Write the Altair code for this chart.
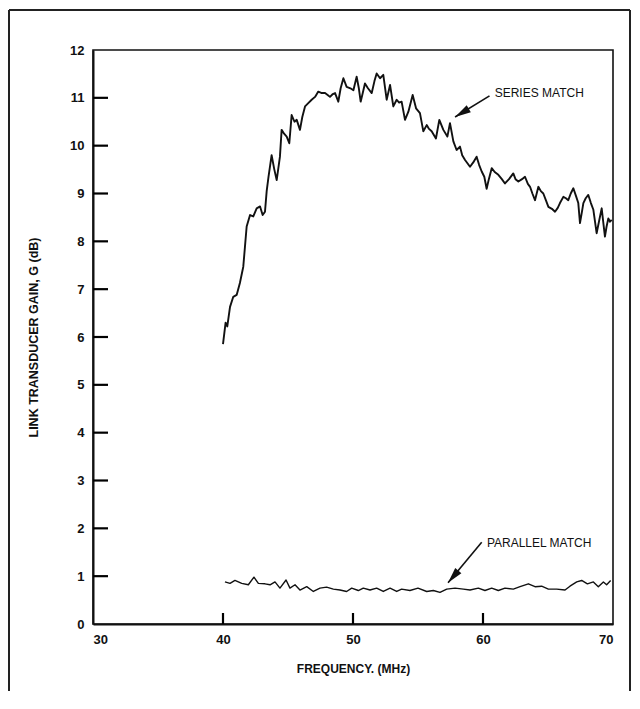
import altair as alt
import pandas as pd

# ---------------- data ----------------
series_freq = [40.0, 40.2, 40.33, 40.54, 40.79, 41.05, 41.3, 41.56, 41.69, 41.82, 42.08, 42.33,
               42.59, 42.85, 43.05, 43.23, 43.36, 43.5, 43.74, 43.95, 44.13, 44.38, 44.51, 44.7,
               44.9, 45.1, 45.28, 45.5, 45.67, 45.92, 46.1, 46.31, 46.56, 46.82, 47.08, 47.33,
               47.6, 47.85, 48.05, 48.23, 48.45, 48.62, 48.87, 49.05, 49.26, 49.51, 49.8, 50.03,
               50.28, 50.45, 50.59, 50.75, 50.92, 51.15, 51.44, 51.65, 51.82, 52.08, 52.33, 52.59,
               52.85, 53.1, 53.36, 53.55, 53.74, 54.0, 54.26, 54.59, 54.85, 55.15, 55.41, 55.67,
               55.85, 56.05, 56.38, 56.64, 56.95, 57.26, 57.46, 57.72, 57.97, 58.23, 58.4, 58.62,
               59.0, 59.25, 59.51, 59.7, 59.9, 60.1, 60.28, 60.45, 60.67, 60.9, 61.18, 61.45,
               61.69, 62.0, 62.33, 62.5, 62.72, 63.0, 63.23, 63.45, 63.62, 63.8, 64.0, 64.26,
               64.45, 64.64, 64.85, 65.03, 65.3, 65.54, 65.75, 65.92, 66.18, 66.38, 66.56, 66.75,
               66.95, 67.15, 67.33, 67.46, 67.6, 67.72, 67.9, 68.1, 68.3, 68.49, 68.74, 68.95,
               69.13, 69.25, 69.38, 69.5, 69.64, 69.77, 69.9]
series_gain = [5.85, 6.3, 6.22, 6.63, 6.84, 6.88, 7.13, 7.47, 7.89, 8.31, 8.55, 8.52,
               8.69, 8.73, 8.55, 8.62, 9.05, 9.35, 9.8, 9.5, 9.28, 9.77, 10.33, 10.25,
               10.19, 10.05, 10.64, 10.5, 10.54, 10.33, 10.6, 10.82, 10.89, 10.96, 11.02, 11.13,
               11.1, 11.1, 11.06, 11.02, 11.08, 11.1, 10.92, 11.2, 11.41, 11.23, 11.2, 11.16,
               11.44, 11.2, 10.92, 11.1, 11.3, 11.2, 11.1, 11.35, 11.51, 11.41, 11.48, 10.96,
               11.27, 10.82, 10.96, 10.9, 10.92, 10.54, 10.71, 11.06, 10.78, 10.68, 10.3, 10.43,
               10.35, 10.3, 10.15, 10.54, 10.33, 10.19, 10.47, 10.09, 9.91, 9.98, 9.8, 9.7,
               9.56, 9.65, 9.77, 9.6, 9.46, 9.35, 9.1, 9.3, 9.53, 9.45, 9.39, 9.3,
               9.21, 9.3, 9.42, 9.3, 9.25, 9.3, 9.35, 9.2, 9.14, 9.0, 8.86, 9.14,
               9.05, 9.0, 8.85, 8.72, 8.68, 8.62, 8.7, 8.8, 8.93, 8.9, 8.86, 9.0,
               9.11, 8.95, 8.8, 8.38, 8.6, 8.8, 8.9, 8.97, 8.8, 8.66, 8.17, 8.45,
               8.69, 8.4, 8.1, 8.3, 8.48, 8.41, 8.45]

parallel_freq = [40.15, 40.54, 40.92, 41.44, 41.95, 42.38, 42.72, 43.23, 43.62, 44.0, 44.38, 44.85,
                 45.15, 45.54, 45.92, 46.44, 46.95, 47.46, 47.97, 48.49, 49.0, 49.51, 49.9, 50.41,
                 50.79, 51.31, 51.82, 52.33, 52.85, 53.36, 53.74, 54.38, 55.0, 55.67, 56.18, 56.69,
                 57.21, 57.85, 58.49, 59.0, 59.64, 60.15, 60.67, 61.18, 61.69, 62.33, 62.85, 63.49,
                 64.0, 64.51, 65.03, 65.67, 66.31, 66.69, 67.21, 67.59, 68.03, 68.49, 68.87, 69.26,
                 69.51, 69.82]
parallel_gain = [0.88, 0.85, 0.91, 0.85, 0.82, 0.98, 0.85, 0.84, 0.82, 0.88, 0.75, 0.92,
                 0.75, 0.82, 0.71, 0.78, 0.68, 0.75, 0.77, 0.73, 0.71, 0.68, 0.75, 0.70,
                 0.75, 0.71, 0.75, 0.68, 0.75, 0.68, 0.73, 0.70, 0.75, 0.68, 0.70, 0.66,
                 0.73, 0.75, 0.73, 0.71, 0.75, 0.70, 0.75, 0.70, 0.75, 0.73, 0.78, 0.84,
                 0.78, 0.79, 0.73, 0.73, 0.71, 0.79, 0.88, 0.91, 0.84, 0.88, 0.78, 0.88,
                 0.82, 0.91]

x_label_values = [30, 40, 50, 60, 70]
y_label_values = [0, 1, 2, 3, 4, 5, 6, 7, 8, 9, 10, 11, 12]
x_inner_ticks = [40, 50, 60]
y_inner_ticks = [1, 2, 3, 4, 5, 6, 7, 8, 9, 10, 11]

labels_text = ["SERIES MATCH", "PARALLEL MATCH"]
labels_x = [60.9, 60.3]
labels_y = [11.1, 1.69]
arrow_tail_x = [60.5, 59.9]
arrow_tail_y = [11.04, 1.71]
arrow_tip_x = [57.85, 57.31]
arrow_tip_y = [10.6, 0.86]
arrow_angle = [239, 220]

# ---------------- chart ----------------
FONT = "Liberation Sans"
W, H = 520, 574

x_scale = alt.Scale(domain=[30, 70], nice=False, zero=False)
y_scale = alt.Scale(domain=[0, 12], nice=False)

x_axis = alt.Axis(
    values=x_label_values, title="FREQUENCY. (MHz)", tickSize=0, grid=False,
    labelFont=FONT, labelFontSize=13, labelFontWeight="bold", labelColor="#111",
    labelPadding=9, domainColor="#111", domainWidth=2,
    titleFont=FONT, titleFontSize=12, titleFontWeight="bold", titleColor="#111",
    titleX=W / 2, titleY=44, titleBaseline="middle", titleAlign="center")
y_axis = alt.Axis(
    values=y_label_values, title="LINK TRANSDUCER GAIN, G (dB)", tickSize=0, grid=False,
    labelFont=FONT, labelFontSize=13, labelFontWeight="bold", labelColor="#111",
    labelPadding=9, domainColor="#111", domainWidth=2,
    titleFont=FONT, titleFontSize=12.5, titleFontWeight="bold", titleColor="#111",
    titleX=-60, titleY=H / 2, titleAngle=270, titleBaseline="middle", titleAlign="center")


def X(field):
    return alt.X(field, type="quantitative", scale=x_scale, axis=x_axis)


def Y(field):
    return alt.Y(field, type="quantitative", scale=y_scale, axis=y_axis)


curves = pd.concat([
    pd.DataFrame({"f": series_freq, "g": series_gain, "s": "series"}),
    pd.DataFrame({"f": parallel_freq, "g": parallel_gain, "s": "parallel"}),
])

lines = alt.Chart(curves).mark_line(color="#111", strokeJoin="round").encode(
    x=X("f"), y=Y("g"), detail="s:N",
    strokeWidth=alt.condition(alt.datum.s == "series", alt.value(1.9), alt.value(1.4)))

xt = alt.Chart(pd.DataFrame({"f": x_inner_ticks})).mark_rule(color="#000", strokeWidth=2.2).encode(
    x=X("f"), y=alt.value(H), y2=alt.value(H - 11))
yt = alt.Chart(pd.DataFrame({"g": y_inner_ticks})).mark_rule(color="#000", strokeWidth=2.2).encode(
    y=Y("g"), x=alt.value(0), x2=alt.value(15))

ann = pd.DataFrame({"t": labels_text, "lx": labels_x, "ly": labels_y,
                    "ax": arrow_tail_x, "ay": arrow_tail_y,
                    "bx": arrow_tip_x, "by": arrow_tip_y, "ang": arrow_angle})

shafts = alt.Chart(ann).mark_rule(color="#111", strokeWidth=1.6).encode(
    x=X("ax"), y=Y("ay"), x2="bx:Q", y2="by:Q")
heads = alt.Chart(ann).mark_point(shape="M0,0L0.5,2L-0.5,2Z", filled=True, color="#111",
                                  opacity=1, size=256).encode(
    x=X("bx"), y=Y("by"), angle=alt.Angle("ang:Q", scale=None))
texts = alt.Chart(ann).mark_text(align="left", baseline="middle", font=FONT, fontSize=12,
                                 color="#111").encode(
    x=X("lx"), y=Y("ly"), text="t:N")

# outer page frame (left, top, right edges)
one = pd.DataFrame({"k": [0]})
frame_top = alt.Chart(one).mark_rule(color="#222", strokeWidth=2).encode(
    x=alt.value(-84), x2=alt.value(537), y=alt.value(-40))
frame_left = alt.Chart(one).mark_rule(color="#222", strokeWidth=2).encode(
    x=alt.value(-84), y=alt.value(-40), y2=alt.value(641))
frame_right = alt.Chart(one).mark_rule(color="#222", strokeWidth=2).encode(
    x=alt.value(537), y=alt.value(-40), y2=alt.value(641))

chart = alt.layer(lines, shafts, heads, texts,
                  frame_top, frame_left, frame_right, xt, yt).properties(
    width=W, height=H,
    autosize=alt.AutoSizeParams(type="none"),
    padding={"left": 85, "top": 42, "right": 18, "bottom": 67},
    background="white",
).configure_view(stroke="#111", strokeWidth=1.6)

chart.save("out.html", embed_options={"renderer": "svg", "actions": False})
